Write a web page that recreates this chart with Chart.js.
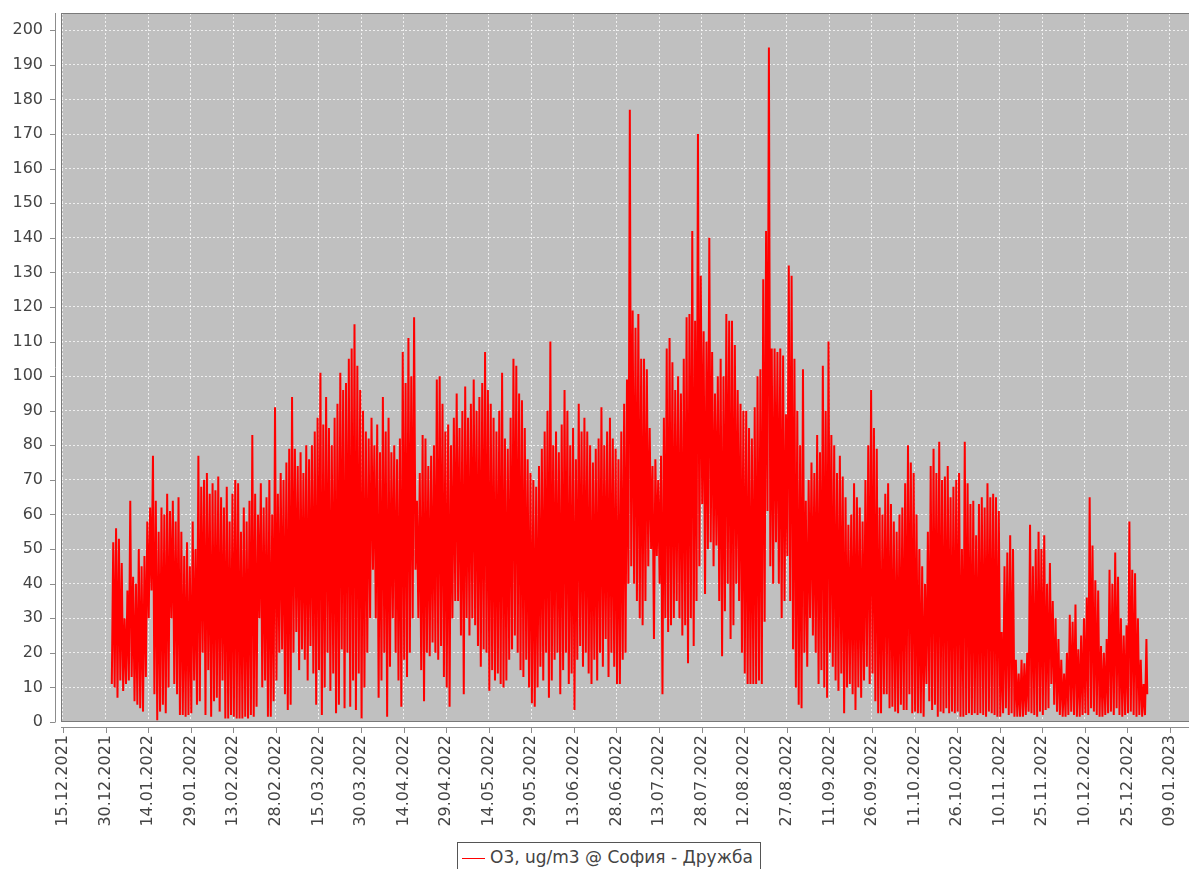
<!DOCTYPE html>
<html>
<head>
<meta charset="utf-8">
<script src="https://cdn.jsdelivr.net/npm/chart.js@4.4.1/dist/chart.umd.min.js"></script>
<style>
  body { margin: 0; background: #fff; }
  #wrap { position: relative; width: 1189px; height: 869px; overflow: hidden; }
  #legend {
    position: absolute; left: 457px; top: 842px; width: 304px; height: 32px;
    box-sizing: border-box; border: 1px solid #555; background: #fff;
    font: 17px "DejaVu Sans"; color: #444; line-height: 28px; white-space: nowrap;
  }
  #legend .swatch {
    display: inline-block; width: 23px; height: 0; border-top: 1px solid #ff0000;
    vertical-align: middle; margin: 0 5px 0 4px;
  }
</style>
</head>
<body>
<div id="wrap">
  <canvas id="chartDisplay" width="1189" height="869"></canvas>
  <div id="legend"><span class="swatch"></span>O3, ug/m3 @ София - Дружба</div>
</div>
<script>
// x values are days counted from 01.01.2022 (day 0)
const tickDays = [-17, -2, 13, 28, 43, 58, 73, 88, 103, 118, 133, 148, 163, 178,
                  193, 208, 223, 238, 253, 268, 283, 298, 313, 328, 343, 358, 373];
const tickLabels = ['15.12.2021', '30.12.2021', '14.01.2022', '29.01.2022', '13.02.2022',
  '28.02.2022', '15.03.2022', '30.03.2022', '14.04.2022', '29.04.2022', '14.05.2022',
  '29.05.2022', '13.06.2022', '28.06.2022', '13.07.2022', '28.07.2022', '12.08.2022',
  '27.08.2022', '11.09.2022', '26.09.2022', '11.10.2022', '26.10.2022', '10.11.2022',
  '25.11.2022', '10.12.2022', '25.12.2022', '09.01.2023'];

// daily maximum of O3 (ug/m3), one row per month
const dailyMax = [
  52,56,53,46,30,38,64,42,40,50,45,48,58,62,77,64,55,62,60,66,61,64,58,65,55,48,52,45,58,50,77,
  68,70,72,66,69,67,71,65,62,68,58,66,70,69,55,62,58,64,83,66,60,69,62,65,70,60,91,66,
  72,70,75,79,94,79,74,78,72,80,76,80,84,88,101,86,94,85,80,88,92,101,96,98,105,108,115,103,96,90,84,
  82,88,80,86,78,94,84,88,78,80,76,82,107,98,111,100,117,64,72,83,82,74,77,80,99,100,92,84,86,80,
  88,95,85,90,97,88,92,99,90,94,98,107,96,92,88,84,90,101,82,79,88,105,103,95,93,85,76,72,70,68,74,
  79,84,90,110,80,84,78,86,96,90,80,85,76,92,84,88,84,80,75,79,82,91,80,84,88,82,79,76,84,92,
  99,177,119,114,118,105,105,102,85,74,76,70,77,88,108,111,104,96,100,95,105,117,118,142,116,170,129,113,110,140,107,
  95,100,105,100,118,116,116,109,96,92,90,90,85,82,91,100,102,128,142,195,108,108,107,108,106,89,132,129,105,90,80,
  102,64,70,75,72,83,78,103,90,110,83,80,72,77,71,65,57,60,69,65,62,58,70,80,96,85,79,62,60,66,
  69,63,58,55,60,62,69,80,75,72,60,50,45,40,55,74,79,72,81,70,71,74,65,68,70,72,50,81,69,63,64,
  54,63,65,62,69,65,66,65,61,26,45,49,54,50,18,14,18,17,20,57,45,50,55,50,54,40,46,35,30,24,
  18,14,20,31,29,34,21,25,30,36,65,51,41,38,22,20,24,44,40,49,42,30,25,28,58,44,43,30,18,11,24
];

// daily minimum of O3 (ug/m3)
const dailyMin = [
  11,10,7,12,9,11,12,13,6,5,4,3,13,30,38,8,0.5,3,5,2.5,10,30,11,8,2,2,1.5,2,2.5,12,5,
  6,20,2,15,1.5,6,7,3,12,1,1,2,1.5,1,1,1,1.5,1,2,1.5,4.4,30,10,12,1.5,1.5,6,12,
  20,21,8,3.5,5,20,26,15,21,18,12,22,14,5,15,2,10,20,9,14,2.5,5,21,4,20,4.4,12,3.5,14,1,10,
  20,30,44,30,7,12,20,1.5,16,30,20,12,4.4,18,13,20,30,44,30,15,6,20,19,23,20,18,22,13,10,4.4,
  30,35,35,25,8,30,25,30,28,22,16,21,20,9,15,12,14,11,10,12,18,21,25,20,15,13,18,10,5.4,4.4,10,
  16,12,20,7,12,18,20,8,15,20,11,14,3.5,18,22,16,20,14,11,18,12,20,16,24,13,20,16,11,11,18,
  20,40,45,40,35,30,28,35,45,50,24,48,40,8,30,26,28,30,35,30,25,28,17,30,22,35,45,63,37,50,52,
  45,51,35,19,32,40,24,28,40,35,20,14,11,11,11,11,12,11,29,61,45,40,52,40,30,35,48,35,21,10,5,
  4,20,16,30,25,20,11,15,10,7,20,16,12,9,14,2.5,10,11,8,3.5,10,7,12,16,11,14,6,2.5,2.5,8,
  8,4,4.4,3,2.5,5,3.5,3.5,8,2.5,3,2.5,2.5,1.5,11,6,3.5,5,1.5,3,2.5,4,2.5,3,2.5,3,1.5,1.5,2,2.5,2,
  2.5,2,2.5,2,1.5,3,2.5,2,1.5,1.5,2.5,4,2,2.5,1.5,1.5,1.5,1.5,2,3,2.5,2,1.5,3,2,3.5,4,11,5,3,
  2,1.5,1.5,2,3,2,1.5,1.5,2,2.5,2,4,3,2,1.5,1.5,2,2.5,3,2,4,2,1.5,2,2.5,3,2,1.5,2,1.5,2
];
const lastValue = 8; // 01.01.2023 00:00

// night minimum then afternoon maximum for every day
let points = [];
for (let day = 0; day < dailyMax.length; day++) {
  points.push({x: day + 0.2, y: dailyMin[day]});
  points.push({x: day + 0.7, y: dailyMax[day]});
}
points.push({x: dailyMax.length, y: lastValue});

Chart.defaults.font.family = 'DejaVu Sans';
Chart.defaults.font.size = 16;
Chart.defaults.color = '#444';

// grey plot area, outline, offset axis lines with their tick marks
const plotFrame = {
  id: 'plotFrame',
  beforeDraw(chart) {
    const {ctx, chartArea: a} = chart;
    ctx.save();
    ctx.fillStyle = '#c0c0c0';
    ctx.fillRect(a.left, a.top, a.right - a.left, a.bottom - a.top);
    ctx.restore();
  },
  afterDraw(chart) {
    const {ctx, chartArea: a, scales} = chart;
    ctx.save();
    ctx.lineWidth = 1;
    ctx.strokeStyle = '#7a7a7a';
    ctx.strokeRect(a.left + 0.5, a.top + 0.5, a.right - a.left + 2, a.bottom - a.top - 1);
    ctx.strokeStyle = '#8c8c8c';
    ctx.beginPath();
    // y axis
    ctx.moveTo(a.left - 5.5, a.top);
    ctx.lineTo(a.left - 5.5, a.bottom);
    scales.y.ticks.forEach(t => {
      const py = Math.round(scales.y.getPixelForValue(t.value)) + 0.5;
      ctx.moveTo(a.left - 11, py);
      ctx.lineTo(a.left - 5.5, py);
    });
    // x axis
    ctx.moveTo(a.left, a.bottom + 5.5);
    ctx.lineTo(a.right, a.bottom + 5.5);
    scales.x.ticks.forEach(t => {
      const px = Math.round(scales.x.getPixelForValue(t.value)) + 0.5;
      ctx.moveTo(px, a.bottom + 5.5);
      ctx.lineTo(px, a.bottom + 11);
    });
    ctx.stroke();
    ctx.restore();
  }
};

const chart = new Chart(document.getElementById('chartDisplay'), {
  type: 'line',
  data: {
    datasets: [{
      label: 'O3, ug/m3 @ София - Дружба',
      data: points,
      borderColor: '#ff0000',
      borderWidth: 2,
      pointRadius: 0,
      tension: 0
    }]
  },
  plugins: [plotFrame],
  options: {
    responsive: false,
    animation: false,
    devicePixelRatio: 1,
    layout: { padding: { top: 13, right: 0, left: 0, bottom: 0 } },
    plugins: { legend: { display: false }, tooltip: { enabled: false } },
    scales: {
      x: {
        type: 'linear',
        min: -17.7,
        max: 379.7,
        afterBuildTicks: scale => { scale.ticks = tickDays.map(v => ({value: v})); },
        afterFit: scale => {
          scale.height = 147;
          scale.paddingLeft = 0;
          scale.paddingRight = 0;
        },
        ticks: {
          autoSkip: false,
          minRotation: 90,
          maxRotation: 90,
          padding: 13,
          callback: (value, index) => tickLabels[index]
        },
        grid: { color: 'rgba(255,255,255,0.75)', drawTicks: false },
        border: { display: false, dash: [2, 2] }
      },
      y: {
        min: 0,
        max: 205,
        afterFit: scale => {
          scale.width = 61;
          scale.paddingTop = 0;
          scale.paddingBottom = 0;
        },
        ticks: { stepSize: 10, includeBounds: false, padding: 18 },
        grid: { color: 'rgba(255,255,255,0.75)', drawTicks: false },
        border: { display: false, dash: [2, 2] }
      }
    }
  }
});
</script>
</body>
</html>
